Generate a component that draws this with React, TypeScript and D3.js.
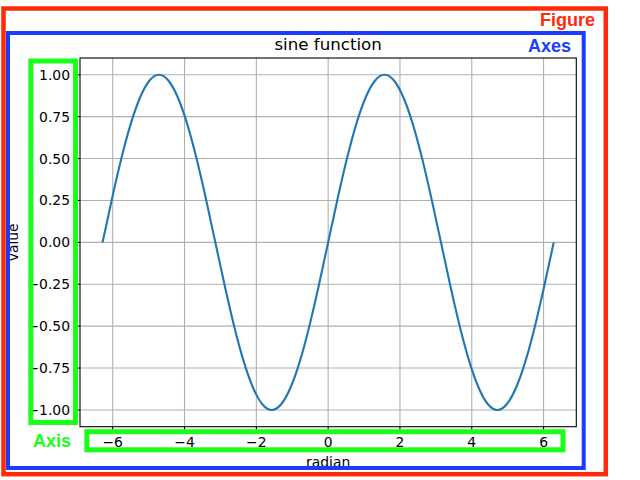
import React from "react";
import * as d3 from "d3";

const xValues = [
  -6.283, -6.021, -5.760, -5.498, -5.236, -4.974, -4.712, -4.451, -4.189, -3.927, -3.665, -3.403,
  -3.142, -2.880, -2.618, -2.356, -2.094, -1.833, -1.571, -1.309, -1.047, -0.785, -0.524, -0.262,
  0, 0.262, 0.524, 0.785, 1.047, 1.309, 1.571, 1.833, 2.094, 2.356, 2.618, 2.880,
  3.142, 3.403, 3.665, 3.927, 4.189, 4.451, 4.712, 4.974, 5.236, 5.498, 5.760, 6.021, 6.283,
];
const yValues = [
  0, 0.259, 0.5, 0.707, 0.866, 0.966, 1, 0.966, 0.866, 0.707, 0.5, 0.259,
  0, -0.259, -0.5, -0.707, -0.866, -0.966, -1, -0.966, -0.866, -0.707, -0.5, -0.259,
  0, 0.259, 0.5, 0.707, 0.866, 0.966, 1, 0.966, 0.866, 0.707, 0.5, 0.259,
  0, -0.259, -0.5, -0.707, -0.866, -0.966, -1, -0.966, -0.866, -0.707, -0.5, -0.259, 0,
];
const xTicks = [-6, -4, -2, 0, 2, 4, 6];
const yTicks = [-1, -0.75, -0.5, -0.25, 0, 0.25, 0.5, 0.75, 1];
const titleText = "sine function";
const xLabel = "radian";
const yLabel = "value";

const W = 640;
const H = 480;
const L = 80, R = 576.3, T = 58, B = 426.7;
const FONT = "DejaVu Sans, sans-serif";
const BOLD = "Liberation Sans, Arial, sans-serif";

export default function App() {
  const x = d3.scaleLinear().domain([-6.9115, 6.9115]).range([L, R]);
  const y = d3.scaleLinear().domain([-1.1, 1.1]).range([B, T]);
  const pts: [number, number][] = xValues.map((v, i) => [v, yValues[i]]);
  const line = d3
    .line<[number, number]>()
    .x((d) => x(d[0]))
    .y((d) => y(d[1]))
    .curve(d3.curveNatural);
  const fy = d3.format(".2f");
  const fx = d3.format("d");
  const tickLen = 4.86;

  return (
    <svg
      width={W}
      height={H}
      viewBox={`0 0 ${W} ${H}`}
      style={{ position: "fixed", left: 0, top: 0, background: "#fff" }}
    >
      <rect x={0} y={0} width={W} height={H} fill="#fff" />
      {/* grid */}
      <g stroke="#b0b0b0" strokeWidth={1.1}>
        {xTicks.map((t) => (
          <line key={"gx" + t} x1={x(t)} x2={x(t)} y1={T} y2={B} />
        ))}
        {yTicks.map((t) => (
          <line key={"gy" + t} x1={L} x2={R} y1={y(t)} y2={y(t)} />
        ))}
      </g>
      {/* curve */}
      <path d={line(pts) || ""} fill="none" stroke="#1f77b4" strokeWidth={2.1} strokeLinecap="butt" />
      {/* frame */}
      <rect x={L} y={T} width={R - L} height={B - T} fill="none" stroke="#000" strokeWidth={1.1} />
      {/* ticks */}
      <g stroke="#000" strokeWidth={1.1}>
        {xTicks.map((t) => (
          <line key={"tx" + t} x1={x(t)} x2={x(t)} y1={B} y2={B + tickLen} />
        ))}
        {yTicks.map((t) => (
          <line key={"ty" + t} x1={L - tickLen} x2={L} y1={y(t)} y2={y(t)} />
        ))}
      </g>
      <g fontFamily={FONT} fontSize={13.9} fill="#000">
        {xTicks.map((t) => (
          <text key={"lx" + t} x={x(t)} y={447} textAnchor="middle">
            {fx(t)}
          </text>
        ))}
        {yTicks.map((t) => (
          <text key={"ly" + t} x={70} y={y(t)} dy="0.36em" textAnchor="end">
            {fy(t)}
          </text>
        ))}
        <text x={(L + R) / 2} y={467} textAnchor="middle">
          {xLabel}
        </text>
        <text transform={`translate(18,${(T + B) / 2}) rotate(-90)`} textAnchor="middle">
          {yLabel}
        </text>
      </g>
      <text x={(L + R) / 2} y={49.5} textAnchor="middle" fontFamily={FONT} fontSize={16.67} fill="#000">
        {titleText}
      </text>
      {/* annotation boxes */}
      <rect x={3.5} y={8.5} width={605.8 - 3.5} height={474.2 - 8.5} fill="none" stroke="#ff2a0a" strokeWidth={4.5} />
      <rect x={8} y={33} width={583.7 - 8} height={468 - 33} fill="none" stroke="#1a3cff" strokeWidth={4} />
      <rect x={30.8} y={61} width={75.5 - 30.8} height={422.5 - 61} fill="none" stroke="#1aff1a" strokeWidth={5} />
      <rect x={86.8} y={431.7} width={563 - 86.8} height={449.8 - 431.7} fill="none" stroke="#1aff1a" strokeWidth={5} />
      <g fontFamily={BOLD} fontWeight="bold" fontSize={18}>
        <text x={595} y={26} textAnchor="end" fill="#ff2a0a">Figure</text>
        <text x={571} y={51.5} textAnchor="end" fill="#1a3cff">Axes</text>
        <text x={33} y={447} fill="#1aff1a">Axis</text>
      </g>
    </svg>
  );
}
